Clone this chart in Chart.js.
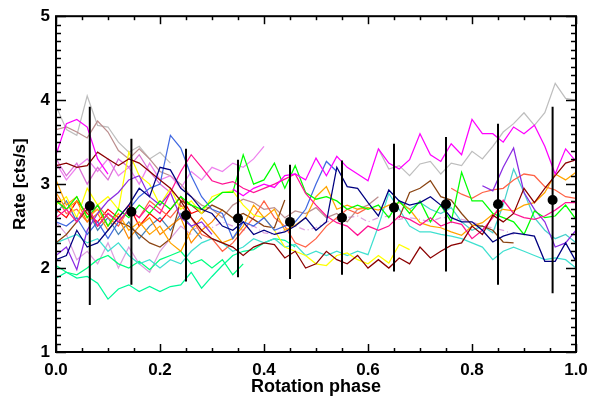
<!DOCTYPE html>
<html>
<head>
<meta charset="utf-8">
<script src="https://cdn.jsdelivr.net/npm/chart.js@4.4.0/dist/chart.umd.min.js"></script>
<style>
html,body{margin:0;padding:0;background:#fff;}
#wrap{width:608px;height:401px;}
</style>
</head>
<body>
<div id="wrap"><canvas id="c" width="608" height="401"></canvas></div>
<script>
const _ = null;
// Rotation phase grid (step 0.02)
const phase = [0.00,0.02,0.04,0.06,0.08,0.10,0.12,0.14,0.16,0.18,
               0.20,0.22,0.24,0.26,0.28,0.30,0.32,0.34,0.36,0.38,
               0.40,0.42,0.44,0.46,0.48,0.50,0.52,0.54,0.56,0.58,
               0.60,0.62,0.64,0.66,0.68,0.70,0.72,0.74,0.76,0.78,
               0.80,0.82,0.84,0.86,0.88,0.90,0.92,0.94,0.96,0.98,1.00];

// Individual light curves (rate, cts/s)
const sGray = [3.93,3.65,3.58,4.05,3.70,3.68,3.50,3.38,3.45,3.30,
               3.38,3.25,_,_,_,_,_,_,_,_,
               _,_,_,_,_,_,_,_,_,_,
               _,3.42,3.18,3.22,3.10,3.24,3.27,3.12,3.25,3.22,
               3.39,3.30,3.45,3.62,3.72,3.85,3.70,3.85,4.20,4.02,4.00];
const sMagenta = [3.35,3.72,3.77,3.68,3.30,3.12,_,_,_,_,
                  _,_,_,_,_,_,_,2.94,2.86,2.95,
                  3.00,2.96,3.10,3.12,3.05,3.31,3.10,3.33,3.20,3.12,
                  3.04,3.42,3.25,3.18,3.29,3.60,3.35,3.27,3.48,3.35,
                  3.77,3.60,3.60,3.50,3.68,3.60,3.70,3.45,3.12,3.42,3.27];
const sDarkRed = [3.22,3.25,3.20,3.22,3.38,3.30,3.22,3.30,3.25,3.15,
                  3.05,2.95,2.80,2.60,2.45,2.35,2.30,2.25,2.15,2.25,
                  2.30,2.28,2.12,2.20,2.00,2.05,2.20,2.10,2.05,2.15,
                  2.00,2.10,2.00,2.12,2.05,2.25,2.12,2.20,2.27,2.30,
                  2.50,2.40,2.63,2.55,2.65,2.95,2.78,2.95,3.10,3.25,3.29];
const sRosyBrown = [3.65,3.68,3.62,3.55,3.75,3.62,3.40,3.30,3.42,3.30,
                    3.15,3.10,3.00,2.85,2.75,2.70,2.60,2.75,2.82,2.78,
                    2.70,2.72,2.60,2.68,2.65,2.72,2.60,2.65,2.55,2.70,
                    2.75,2.85,_,_,_,_,_,_,_,_,
                    _,_,_,_,_,_,_,_,_,_,_];
const sViolet = [3.25,3.05,3.20,3.30,3.15,3.30,3.10,3.20,3.00,3.25,
                 3.05,3.10,2.95,3.15,3.05,3.20,3.15,3.25,3.20,3.30,
                 3.45,_,_,_,_,_,_,_,_,_,
                 _,_,_,_,_,_,_,_,_,_,
                 _,_,_,_,_,_,_,_,_,_,_];
const sOrchid = [3.30,3.10,3.25,3.00,3.20,3.05,3.30,3.20,3.35,3.15,
                 3.00,2.90,_,_,_,_,_,_,_,_,
                 _,_,_,_,_,_,_,_,_,_,
                 _,_,_,_,_,_,_,_,_,_,
                 _,_,_,_,_,_,_,_,_,_,_];
const sPlumLow = [2.55,2.40,2.10,2.20,2.05,2.30,2.00,2.25,2.05,1.95,
                  2.20,2.35,2.50,2.40,_,_,_,_,_,_,
                  _,_,_,_,_,_,_,_,_,_,
                  _,_,_,_,_,_,_,_,_,_,
                  _,_,_,_,_,_,_,_,_,_,_];
const sPlumDash = [_,_,_,_,_,_,_,_,_,_,
                   _,_,_,2.45,2.50,2.48,2.55,2.50,2.45,2.50,
                   2.42,2.40,2.45,2.50,2.45,2.48,2.55,2.58,2.60,2.62,
                   2.55,2.60,2.62,2.58,2.60,2.58,2.55,2.60,2.60,2.58,
                   2.55,2.50,2.48,2.45,2.40,_,_,_,_,_,_];
const sYellow = [2.75,2.85,2.60,2.95,2.75,2.85,2.70,3.38,3.10,3.00,
                 2.75,2.95,2.70,2.80,2.65,2.85,2.90,2.92,2.75,2.63,
                 2.60,2.45,2.25,2.20,2.15,2.05,2.03,2.15,2.18,2.10,
                 2.05,2.15,2.06,2.28,2.22,_,_,_,_,_,
                 _,_,_,_,_,_,_,_,_,_,_];
const sLime = [2.80,2.70,2.85,2.60,2.75,2.50,2.70,2.60,2.75,2.65,
               2.80,2.70,2.85,2.75,2.70,2.80,2.90,2.90,3.35,3.00,
               3.05,3.25,2.95,3.22,2.90,2.82,2.85,2.80,2.70,2.75,
               2.70,2.75,2.60,2.80,2.65,2.80,2.55,2.75,2.55,3.14,
               2.80,2.80,2.65,2.60,2.55,2.40,2.68,2.60,2.62,2.75,2.58];
const sOrange = [3.05,2.75,2.85,2.60,2.70,2.50,2.65,2.45,2.55,2.40,
                 2.50,2.30,2.20,2.45,2.60,2.45,2.30,2.35,2.50,2.75,
                 2.60,2.70,2.45,2.51,2.60,2.85,2.97,2.70,2.75,2.70,
                 2.72,2.69,2.75,2.78,2.70,2.54,2.50,2.48,2.43,2.39,
                 2.50,2.54,2.64,2.70,2.68,2.75,2.78,2.90,3.12,3.05,3.14];
const sDarkOrange = [2.90,2.70,2.80,2.55,2.65,2.45,2.60,2.35,2.50,2.60,
                     2.40,2.50,2.60,2.30,2.45,2.55,2.70,_,_,_,
                     _,_,_,_,_,_,_,_,_,_,
                     _,_,_,_,_,_,_,_,_,_,
                     _,_,_,_,_,_,_,_,_,_,_];
const sDeepPink = [2.60,2.70,2.55,2.75,2.50,2.65,2.55,2.70,2.60,2.75,
                   2.65,2.90,3.15,3.35,3.20,3.04,3.00,3.03,2.95,2.90,
                   2.95,3.00,3.06,3.12,2.89,2.75,2.62,2.54,2.50,2.39,
                   2.50,2.45,2.50,2.62,2.58,2.51,2.60,2.50,2.55,2.52,
                   2.35,2.45,2.60,2.81,2.65,2.60,2.58,2.62,2.69,2.78,2.78];
const sRed = [2.70,2.60,2.80,2.65,2.55,2.70,2.60,2.75,2.50,2.65,
              2.55,2.70,2.85,2.65,2.70,_,_,_,_,_,
              _,_,_,_,_,_,_,_,_,_,
              _,_,_,_,_,_,_,_,_,_,
              _,_,_,_,_,_,_,_,_,_,_];
const sTomato = [2.85,2.65,2.70,2.55,2.75,2.60,2.50,2.70,2.60,2.80,
                 2.70,2.60,2.75,2.60,2.40,2.35,2.20,2.30,2.45,2.60,
                 2.80,2.60,2.50,2.30,2.25,2.35,2.50,2.60,2.70,2.65,
                 2.72,_,_,_,_,_,_,_,2.95,2.88,
                 2.83,2.90,2.93,2.95,3.05,3.12,3.10,2.97,2.93,2.85,2.83];
const sNavy = [2.10,2.15,2.45,2.25,2.30,2.45,2.60,2.75,2.95,2.85,
               3.20,3.17,2.95,2.85,2.70,2.65,2.50,2.45,2.55,2.40,
               2.45,2.40,2.43,2.50,2.60,2.45,2.55,3.20,2.97,2.95,
               2.78,2.62,2.93,2.80,2.75,2.78,2.85,2.75,2.60,2.55,
               2.55,2.45,2.31,2.38,2.42,2.40,2.38,2.08,2.08,2.30,2.08];
const sRoyalBlue = [2.55,2.50,2.60,2.40,2.55,2.35,2.55,2.70,2.85,2.95,
                    3.00,3.58,3.43,3.10,2.85,2.70,2.65,2.35,2.55,2.50,
                    2.60,2.45,2.50,2.55,2.70,3.00,3.27,3.15,_,_,
                    _,_,_,_,_,_,_,_,_,_,
                    _,_,_,_,_,_,_,_,_,_,_];
const sSteelBlue = [2.65,2.80,2.55,2.70,2.45,2.60,2.40,2.55,2.35,2.50,
                    2.60,2.45,2.65,2.50,2.35,_,_,_,_,_,
                    _,_,_,_,_,_,_,_,_,_,
                    _,_,_,_,_,_,_,_,_,_,
                    _,_,_,_,_,_,_,_,_,_,_];
const sBlueViolet = [2.15,2.25,1.98,2.45,2.65,2.80,2.90,3.05,3.10,2.85,
                     2.75,2.90,2.60,2.50,2.55,2.40,_,_,_,_,
                     _,_,_,_,_,_,_,_,_,_,
                     _,_,_,_,_,_,_,_,_,_,
                     _,2.98,2.92,3.20,3.43,2.90,2.70,2.55,2.25,2.30,2.45];
const sTurquoise = [2.30,2.35,2.40,2.30,2.35,2.20,2.30,2.15,2.05,2.10,
                    2.00,2.10,2.05,2.20,2.30,2.35,2.30,2.20,2.25,2.35,
                    2.30,2.35,2.25,2.28,2.15,2.20,2.15,2.20,2.15,2.20,
                    2.16,2.50,2.89,2.70,2.50,2.43,2.43,2.40,2.38,2.35,
                    2.30,2.25,2.10,2.20,2.25,2.20,2.15,2.10,2.12,2.10,2.00];
const sMedTurquoise = [_,_,_,_,_,_,_,_,_,_,
                       _,_,_,_,_,_,_,_,_,_,
                       _,_,_,_,_,_,_,_,_,_,
                       _,_,_,2.80,2.70,2.78,2.70,2.65,2.72,2.55,
                       2.45,2.50,2.42,2.75,3.18,2.90,2.60,2.45,2.35,2.40,2.30];
const sSpring1 = [1.88,1.95,1.88,1.90,1.82,1.63,1.75,1.80,1.72,1.78,
                  1.72,1.78,1.80,1.95,1.76,1.90,2.03,2.15,2.20,2.22,
                  2.30,2.35,2.33,2.25,_,_,_,_,_,_,
                  _,_,_,_,_,_,_,_,_,_,
                  _,_,_,_,_,_,_,_,_,_,_];
const sSpring2 = [2.03,1.95,1.92,2.00,2.10,2.15,2.05,2.00,2.08,1.98,
                  2.10,2.15,2.20,2.05,2.10,2.00,2.10,1.92,2.05,_,
                  _,_,_,_,_,_,_,_,_,_,
                  _,_,_,_,_,_,_,_,_,_,
                  _,_,_,_,_,_,_,_,_,_,_];
const sSaddleBrown = [2.30,2.40,2.55,2.70,2.50,2.65,2.55,2.50,2.40,2.30,
                      2.25,2.35,2.80,2.75,2.65,2.75,2.69,2.60,2.65,2.58,
                      2.50,2.48,2.81,_,_,_,_,_,_,_,
                      _,_,_,2.60,2.90,2.95,3.04,2.85,2.81,2.65,
                      2.51,2.50,2.45,2.31,2.30,_,_,_,_,_,_];

// Phase-binned mean rate and error
const meanPhase = [0.065,0.145,0.25,0.35,0.45,0.55,0.65,0.75,0.85,0.955];
const meanRate  = [2.74,2.67,2.63,2.59,2.55,2.60,2.72,2.76,2.76,2.81];
const meanErr   = [1.18,0.87,0.79,0.70,0.68,0.68,0.76,0.80,0.96,1.11];

// Axis ticks
const xMajorTicks = [0.0,0.2,0.4,0.6,0.8,1.0];
const yMajorTicks = [1,2,3,4,5];

const curves = [
  [sGray,'#BEBEBE'],[sRosyBrown,'#BC8F8F'],[sViolet,'#EE82EE'],[sOrchid,'#DA70D6'],
  [sPlumLow,'#DDA0DD'],[sSpring2,'#00FF7F'],[sSpring1,'#00FA9A'],[sTurquoise,'#40E0D0'],
  [sMedTurquoise,'#48D1CC'],[sSteelBlue,'#4682B4'],[sRed,'#FF0000'],[sTomato,'#FF6347'],
  [sDarkOrange,'#FF8C00'],[sSaddleBrown,'#8B4513'],[sYellow,'#FFFF00'],[sOrange,'#FFA500'],
  [sBlueViolet,'#8A2BE2'],[sRoyalBlue,'#4169E1'],[sLime,'#00FF00'],[sDeepPink,'#FF1493'],
  [sDarkRed,'#8B0000'],[sNavy,'#000080'],[sMagenta,'#FF00FF']
];

const datasets = [];
// mean points (drawn on top)
datasets.push({
  data: meanPhase.map((p,i)=>({x:p,y:meanRate[i]})),
  showLine:false, pointRadius:5, pointBackgroundColor:'#000', pointBorderColor:'#000',
  pointBorderWidth:0
});
// error bars
const errData = [];
meanPhase.forEach((p,i)=>{
  errData.push({x:p,y:meanRate[i]-meanErr[i]});
  errData.push({x:p,y:meanRate[i]+meanErr[i]});
  errData.push({x:p,y:null});
});
datasets.push({data:errData, borderColor:'#000', borderWidth:2, pointRadius:0, spanGaps:false});
// light curves
curves.slice().reverse().forEach(([arr,col])=>{
  datasets.push({
    data: phase.map((p,i)=>({x:p,y:arr[i]})),
    borderColor:col, borderWidth:1.25, pointRadius:0, spanGaps:false
  });
});
datasets.push({
  data: phase.map((p,i)=>({x:p,y:sPlumDash[i]})),
  borderColor:'#DDA0DD', borderWidth:1.25, pointRadius:0, spanGaps:false, borderDash:[6,3,1,3]
});

const FONT = "'Liberation Sans', Arial, Helvetica, sans-serif";

const framePlugin = {
  id:'frame',
  afterDatasetsDraw(chart){
    const ctx = chart.ctx, xs = chart.scales.x, ys = chart.scales.y;
    const L = xs.left, R = xs.right, T = ys.top, B = ys.bottom;
    ctx.save();
    ctx.strokeStyle = '#000';
    ctx.lineWidth = 1.5;
    for (let k=0;k<=20;k++){
      const v = k*0.05;
      const px = Math.round(xs.getPixelForValue(v))+0.5;
      const len = (k%4===0)?8:4;
      ctx.beginPath(); ctx.moveTo(px,B); ctx.lineTo(px,B-len); ctx.stroke();
      ctx.beginPath(); ctx.moveTo(px,T); ctx.lineTo(px,T+len); ctx.stroke();
    }
    for (let k=0;k<=40;k++){
      const v = 1+k*0.1;
      const py = Math.round(ys.getPixelForValue(v))+0.5;
      const len = (k%10===0)?10:5;
      ctx.beginPath(); ctx.moveTo(L,py); ctx.lineTo(L+len,py); ctx.stroke();
      ctx.beginPath(); ctx.moveTo(R,py); ctx.lineTo(R-len,py); ctx.stroke();
    }
    ctx.lineWidth = 2;
    ctx.strokeRect(L,T,R-L,B-T);
    ctx.restore();
  }
};

new Chart(document.getElementById('c'), {
  type:'line',
  data:{datasets},
  options:{
    responsive:false, animation:false, events:[],
    layout:{padding:{left:0,right:32,top:7,bottom:0}},
    plugins:{legend:{display:false}, tooltip:{enabled:false}},
    scales:{
      x:{
        type:'linear', min:0, max:1,
        afterFit(s){ s.height = 49; },
        afterBuildTicks(s){ s.ticks = xMajorTicks.map(v=>({value:v})); },
        grid:{display:false, drawTicks:false}, border:{display:false},
        ticks:{autoSkip:false, maxRotation:0, padding:8, color:'#000',
               font:{family:FONT, size:17, weight:'bold'},
               callback:(v)=>Number(v).toFixed(1)},
        title:{display:true, text:'Rotation phase', color:'#000',
               font:{family:FONT, size:18, weight:'bold'}, padding:{top:0,bottom:3}}
      },
      y:{
        type:'linear', min:1, max:5,
        afterFit(s){ s.width = 56; },
        afterBuildTicks(s){ s.ticks = yMajorTicks.map(v=>({value:v})); },
        grid:{display:false, drawTicks:false}, border:{display:false},
        ticks:{padding:6, color:'#000', font:{family:FONT, size:17, weight:'bold'},
               callback:(v)=>String(v)},
        title:{display:true, text:'Rate [cts/s]', color:'#000',
               font:{family:FONT, size:17, weight:'bold'}, padding:{top:10,bottom:0}}
      }
    }
  },
  plugins:[framePlugin]
});
</script>
</body>
</html>
